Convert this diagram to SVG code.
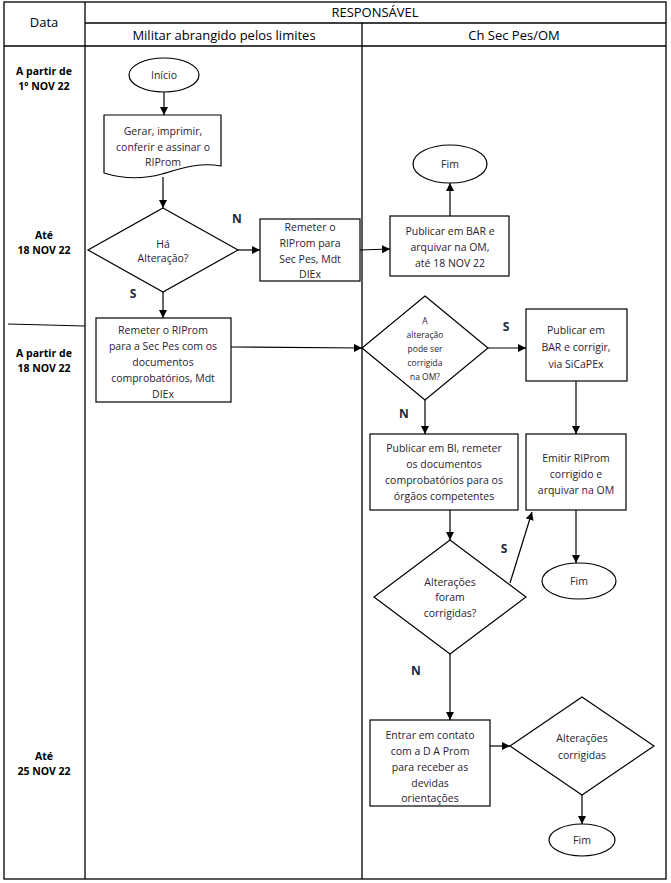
<svg xmlns="http://www.w3.org/2000/svg" width="671" height="883" viewBox="0 0 671 883">
<defs>
<marker id="ah" viewBox="0 0 10 10" refX="10" refY="5" markerWidth="8" markerHeight="8" markerUnits="userSpaceOnUse" orient="auto">
<path d="M0,0 L10,5 L0,10 Z" fill="#000"/>
</marker>
<style>
.grid{stroke:#000;stroke-width:1.3;fill:none}
.shape{fill:#fff;stroke:#000;stroke-width:1.2}
.t{font-family:"Open Sans","Liberation Sans",sans-serif;font-size:10.5px;fill:#2a2230;text-anchor:middle}
.ts{font-family:"Open Sans","Liberation Sans",sans-serif;font-size:8.5px;fill:#2a2230;text-anchor:middle}
.h{font-family:"Open Sans","Liberation Sans",sans-serif;font-size:13px;fill:#000;text-anchor:middle}
.d{font-family:"Open Sans","Liberation Sans",sans-serif;font-size:10.5px;font-weight:bold;fill:#000;text-anchor:middle}
.lbl{font-family:"Open Sans","Liberation Sans",sans-serif;font-size:12px;font-weight:bold;fill:#1a2a3a;text-anchor:middle}
.c{stroke:#000;stroke-width:1.2;fill:none;marker-end:url(#ah)}
</style>
</defs>
<rect width="671" height="883" fill="#fff"/>
<g id="table">
<rect class="grid" x="4" y="2" width="662" height="877"/>
<line class="grid" x1="85" y1="2" x2="85" y2="879"/>
<line class="grid" x1="85" y1="23" x2="666" y2="23"/>
<line class="grid" x1="4" y1="46" x2="666" y2="46"/>
<line class="grid" x1="362" y1="23" x2="362" y2="879"/>
<line x1="8" y1="324" x2="85" y2="326" stroke="#000" stroke-width="1"/>
<text class="h" x="375" y="17">RESPONSÁVEL</text>
<text class="h" x="44" y="27">Data</text>
<text class="h" x="224" y="40">Militar abrangido pelos limites</text>
<text class="h" x="514" y="40">Ch Sec Pes/OM</text>
<text class="d" x="44" y="75">A partir de</text>
<text class="d" x="44" y="90">1º NOV 22</text>
<text class="d" x="44" y="239">Até</text>
<text class="d" x="44" y="254">18 NOV 22</text>
<text class="d" x="44" y="357">A partir de</text>
<text class="d" x="44" y="372">18 NOV 22</text>
<text class="d" x="44" y="760">Até</text>
<text class="d" x="44" y="775">25 NOV 22</text>
</g>
<g id="connectors">
<line class="c" x1="164" y1="92" x2="164" y2="115"/>
<line class="c" x1="163" y1="177" x2="163" y2="208"/>
<line class="c" x1="238" y1="250" x2="260" y2="250"/>
<path class="c" d="M360,250 L390,249"/>
<line class="c" x1="450" y1="216" x2="450" y2="183"/>
<line class="c" x1="163" y1="292" x2="163" y2="318"/>
<path class="c" d="M231,347 L362,348"/>
<line class="c" x1="488" y1="348" x2="526" y2="348"/>
<line class="c" x1="425" y1="400" x2="425" y2="434"/>
<line class="c" x1="576" y1="381" x2="576" y2="434"/>
<line class="c" x1="450" y1="510" x2="450" y2="540"/>
<line class="c" x1="510" y1="583" x2="532" y2="512"/>
<line class="c" x1="576" y1="510" x2="576" y2="563"/>
<line class="c" x1="450" y1="654" x2="450" y2="720"/>
<line class="c" x1="490" y1="746" x2="510" y2="746"/>
<line class="c" x1="582" y1="795" x2="582" y2="824"/>
<text class="lbl" x="237" y="223">N</text>
<text class="lbl" x="133" y="298">S</text>
<text class="lbl" x="506" y="331">S</text>
<text class="lbl" x="404" y="418">N</text>
<text class="lbl" x="504" y="553">S</text>
<text class="lbl" x="416" y="675">N</text>
</g>
<g id="inicio">
<ellipse class="shape" cx="164" cy="75" rx="35" ry="17"/>
<text class="t" x="164" y="79">Início</text>
</g>
<g id="gerar">
<path class="shape" d="M104,115 H221 V166 C200,162 182,168 162,174 C140,180 120,178 104,173 Z"/>
<text class="t" x="163" y="135">Gerar, imprimir,</text>
<text class="t" x="163" y="151">conferir e assinar o</text>
<text class="t" x="163" y="166">RIProm</text>
</g>
<g id="ha-alteracao">
<polygon class="shape" points="163,208 238,250 163,292 88,250"/>
<text class="t" x="163" y="248">Há</text>
<text class="t" x="163" y="262">Alteração?</text>
</g>
<g id="remeter1">
<rect class="shape" x="260" y="219" width="100" height="62"/>
<text class="t" x="310" y="231">Remeter o</text>
<text class="t" x="310" y="247">RIProm para</text>
<text class="t" x="310" y="263">Sec Pes, Mdt</text>
<text class="t" x="310" y="278">DIEx</text>
</g>
<g id="publicar-bar">
<rect class="shape" x="390" y="216" width="119" height="60"/>
<text class="t" x="450" y="235">Publicar em BAR e</text>
<text class="t" x="450" y="251">arquivar na OM,</text>
<text class="t" x="450" y="267">até 18 NOV 22</text>
</g>
<g id="fim1">
<ellipse class="shape" cx="450" cy="164" rx="37" ry="19"/>
<text class="t" x="450" y="168">Fim</text>
</g>
<g id="remeter2">
<rect class="shape" x="96" y="318" width="135" height="84"/>
<text class="t" x="163" y="334">Remeter o RIProm</text>
<text class="t" x="163" y="350">para a Sec Pes com os</text>
<text class="t" x="163" y="366">documentos</text>
<text class="t" x="163" y="382">comprobatórios, Mdt</text>
<text class="t" x="163" y="398">DIEx</text>
</g>
<g id="pode-corrigir">
<polygon class="shape" points="425,296 488,348 425,400 362,348"/>
<text class="ts" x="425" y="324">A</text>
<text class="ts" x="425" y="338">alteração</text>
<text class="ts" x="425" y="352">pode ser</text>
<text class="ts" x="425" y="366">corrigida</text>
<text class="ts" x="425" y="380">na OM?</text>
</g>
<g id="publicar-corrigir">
<rect class="shape" x="526" y="309" width="101" height="72"/>
<text class="t" x="576" y="334">Publicar em</text>
<text class="t" x="576" y="351">BAR e corrigir,</text>
<text class="t" x="576" y="368">via SiCaPEx</text>
</g>
<g id="publicar-bi">
<rect class="shape" x="370" y="434" width="148" height="76"/>
<text class="t" x="444" y="452">Publicar em BI, remeter</text>
<text class="t" x="444" y="468">os documentos</text>
<text class="t" x="444" y="484">comprobatórios para os</text>
<text class="t" x="444" y="500">órgãos competentes</text>
</g>
<g id="emitir">
<rect class="shape" x="526" y="434" width="100" height="76"/>
<text class="t" x="576" y="462">Emitir RIProm</text>
<text class="t" x="576" y="478">corrigido e</text>
<text class="t" x="576" y="494">arquivar na OM</text>
</g>
<g id="foram-corrigidas">
<polygon class="shape" points="450,540 526,597 450,654 374,597"/>
<text class="t" x="450" y="586">Alterações</text>
<text class="t" x="450" y="601">foram</text>
<text class="t" x="450" y="617">corrigidas?</text>
</g>
<g id="fim2">
<ellipse class="shape" cx="579" cy="581" rx="37" ry="18"/>
<text class="t" x="579" y="585">Fim</text>
</g>
<g id="entrar">
<rect class="shape" x="370" y="720" width="120" height="86"/>
<text class="t" x="430" y="739">Entrar em contato</text>
<text class="t" x="430" y="755">com a D A Prom</text>
<text class="t" x="430" y="771">para receber as</text>
<text class="t" x="430" y="787">devidas</text>
<text class="t" x="430" y="802">orientações</text>
</g>
<g id="alteracoes-corrigidas">
<polygon class="shape" points="582,697 654,746 582,795 510,746"/>
<text class="t" x="582" y="742">Alterações</text>
<text class="t" x="582" y="759">corrigidas</text>
</g>
<g id="fim3">
<ellipse class="shape" cx="582" cy="840" rx="33" ry="16"/>
<text class="t" x="582" y="844">Fim</text>
</g>
</svg>
